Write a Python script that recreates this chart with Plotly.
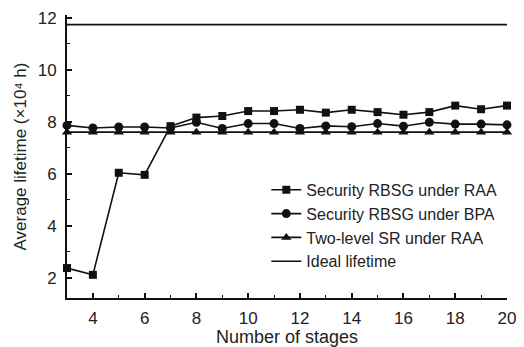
import plotly.graph_objects as go

stages = list(range(3, 21))
raa = [2.38, 2.12, 6.04, 5.96, 7.83, 8.16, 8.22, 8.41, 8.41, 8.46, 8.35, 8.46, 8.37, 8.27, 8.37, 8.62, 8.48, 8.62]
bpa = [7.86, 7.76, 7.80, 7.80, 7.76, 7.98, 7.74, 7.93, 7.93, 7.74, 7.84, 7.81, 7.93, 7.83, 7.98, 7.91, 7.91, 7.88]
two_level = [7.6] * 18
ideal = [11.73] * 18
names = ["Security RBSG under RAA", "Security RBSG under BPA", "Two-level SR under RAA", "Ideal lifetime"]

C = "#111111"
fig = go.Figure()
fig.add_trace(go.Scatter(x=stages, y=raa, name=names[0], mode="lines+markers",
                         line=dict(color=C, width=1.6), marker=dict(symbol="square", size=8, color=C), cliponaxis=False))
fig.add_trace(go.Scatter(x=stages, y=bpa, name=names[1], mode="lines+markers",
                         line=dict(color=C, width=1.6), marker=dict(symbol="circle", size=9, color=C), cliponaxis=False))
fig.add_trace(go.Scatter(x=stages, y=two_level, name=names[2], mode="lines+markers",
                         line=dict(color=C, width=1.6), marker=dict(symbol="triangle-up", size=9, color=C), cliponaxis=False))
fig.add_trace(go.Scatter(x=stages, y=ideal, name=names[3], mode="lines",
                         line=dict(color=C, width=1.6), cliponaxis=False))

# the page body has an 8px default margin, so the figure is sized to fit after it
font = dict(family="Liberation Sans, Arial", size=17, color="#222")
fig.update_layout(
    width=516, height=339, margin=dict(l=59, r=17, t=7, b=49),
    plot_bgcolor="white", paper_bgcolor="white", font=font,
    showlegend=True,
    legend=dict(x=0.453, y=0.442, xanchor="left", yanchor="top", bgcolor="rgba(0,0,0,0)",
                font=dict(family="Liberation Sans, Arial", size=16, color="#222"),
                tracegroupgap=0, itemwidth=30),
)
fig.update_xaxes(range=[3, 20], tickvals=[4, 6, 8, 10, 12, 14, 16, 18, 20], ticks="inside", ticklen=5,
                 tickwidth=1.5, showline=True, linecolor=C, linewidth=2, showgrid=False, zeroline=False,
                 automargin=False, ticklabelstandoff=4,
                 minor=dict(tickvals=[3, 5, 7, 9, 11, 13, 15, 17, 19], ticks="inside", ticklen=3, tickwidth=1.2, tickcolor=C),
                 tickcolor=C, title=dict(text="Number of stages", standoff=0, font=dict(size=18)))
fig.update_yaxes(range=[1.23, 12.1], tickvals=[2, 4, 6, 8, 10, 12], ticks="inside", ticklen=5,
                 tickwidth=1.5, showline=True, linecolor=C, linewidth=2, showgrid=False, zeroline=False,
                 automargin=False, ticklabelstandoff=5,
                 minor=dict(tickvals=[3, 5, 7, 9, 11], ticks="inside", ticklen=3, tickwidth=1.2, tickcolor=C),
                 tickcolor=C, title=dict(text="\u00a0\u00a0\u00a0\u00a0\u00a0Average lifetime (×10⁴ h)", standoff=7, font=dict(size=17)))
fig.write_html("out.html")
